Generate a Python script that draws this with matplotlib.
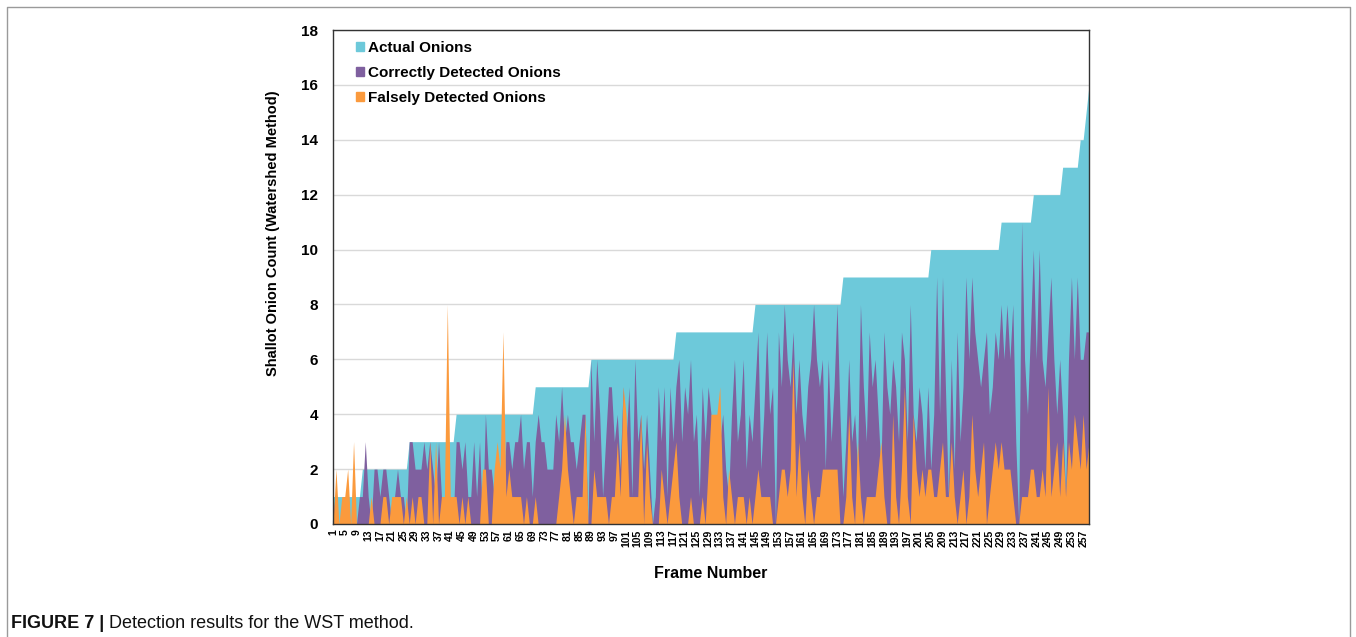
import matplotlib.pyplot as plt
import numpy as np
from matplotlib.lines import Line2D
from matplotlib.patches import Patch

plt.rcParams["font.family"] = ["Liberation Sans", "DejaVu Sans"]

# ---- data (one value per frame, frames 1..259) ----
actual = [
    1, 1, 1, 1, 1, 1, 1, 1, 1, 1,
    2, 2, 2, 2, 2, 2, 2, 2, 2, 2,
    2, 2, 2, 2, 2, 2, 3, 3, 3, 3,
    3, 3, 3, 3, 3, 3, 3, 3, 3, 3,
    3, 3, 4, 4, 4, 4, 4, 4, 4, 4,
    4, 4, 4, 4, 4, 4, 4, 4, 4, 4,
    4, 4, 4, 4, 4, 4, 4, 4, 4, 5,
    5, 5, 5, 5, 5, 5, 5, 5, 5, 5,
    5, 5, 5, 5, 5, 5, 5, 5, 6, 6,
    6, 6, 6, 6, 6, 6, 6, 6, 6, 6,
    6, 6, 6, 6, 6, 6, 6, 6, 6, 6,
    6, 6, 6, 6, 6, 6, 6, 7, 7, 7,
    7, 7, 7, 7, 7, 7, 7, 7, 7, 7,
    7, 7, 7, 7, 7, 7, 7, 7, 7, 7,
    7, 7, 7, 7, 8, 8, 8, 8, 8, 8,
    8, 8, 8, 8, 8, 8, 8, 8, 8, 8,
    8, 8, 8, 8, 8, 8, 8, 8, 8, 8,
    8, 8, 8, 8, 9, 9, 9, 9, 9, 9,
    9, 9, 9, 9, 9, 9, 9, 9, 9, 9,
    9, 9, 9, 9, 9, 9, 9, 9, 9, 9,
    9, 9, 9, 9, 10, 10, 10, 10, 10, 10,
    10, 10, 10, 10, 10, 10, 10, 10, 10, 10,
    10, 10, 10, 10, 10, 10, 10, 10, 11, 11,
    11, 11, 11, 11, 11, 11, 11, 11, 11, 12,
    12, 12, 12, 12, 12, 12, 12, 12, 12, 13,
    13, 13, 13, 13, 13, 14, 14, 15, 16,
]
correct = [
    1, 0, 0, 0, 0, 0, 0, 0, 0, 1,
    1, 3, 1, 0, 2, 2, 1, 2, 2, 1,
    0, 1, 2, 1, 1, 0, 3, 3, 2, 2,
    2, 3, 2, 3, 2, 1, 3, 1, 0, 1,
    1, 0, 3, 3, 2, 3, 1, 1, 3, 1,
    3, 0, 4, 2, 2, 1, 2, 1, 1, 3,
    3, 2, 3, 3, 4, 2, 3, 3, 1, 3,
    4, 3, 3, 2, 2, 2, 4, 3, 5, 3,
    4, 3, 3, 2, 3, 4, 4, 0, 6, 3,
    6, 4, 1, 3, 5, 5, 3, 4, 2, 5,
    3, 5, 1, 6, 3, 4, 2, 4, 2, 0,
    1, 5, 3, 5, 1, 5, 3, 5, 6, 3,
    5, 4, 6, 3, 4, 1, 5, 3, 5, 4,
    2, 4, 3, 4, 2, 1, 4, 6, 3, 4,
    6, 2, 4, 3, 5, 7, 2, 4, 7, 4,
    5, 0, 7, 5, 8, 6, 5, 7, 4, 6,
    4, 3, 5, 6, 8, 6, 5, 6, 2, 6,
    3, 5, 8, 4, 1, 3, 6, 3, 4, 2,
    8, 5, 3, 7, 5, 6, 4, 2, 7, 5,
    4, 6, 5, 3, 7, 6, 3, 8, 4, 3,
    5, 4, 2, 5, 2, 4, 9, 4, 9, 5,
    1, 6, 2, 7, 3, 5, 9, 6, 9, 7,
    6, 5, 6, 7, 4, 5, 7, 6, 8, 6,
    8, 6, 8, 3, 0, 11, 6, 4, 7, 10,
    6, 10, 6, 5, 7, 9, 6, 4, 6, 4,
    1, 6, 9, 6, 9, 6, 6, 7, 7,
]
false_det = [
    0, 2, 0, 1, 1, 2, 0, 3, 0, 0,
    0, 0, 0, 1, 0, 0, 0, 1, 1, 0,
    1, 1, 1, 1, 0, 1, 0, 1, 0, 1,
    1, 0, 0, 3, 0, 3, 0, 1, 1, 8,
    1, 1, 1, 0, 1, 0, 1, 0, 0, 0,
    0, 2, 2, 0, 0, 2, 3, 2, 7, 1,
    2, 1, 1, 1, 1, 0, 1, 0, 0, 1,
    0, 0, 0, 0, 0, 0, 0, 1, 2, 4,
    2, 1, 0, 1, 1, 1, 4, 0, 0, 2,
    1, 1, 1, 1, 0, 1, 1, 3, 1, 5,
    4, 1, 1, 1, 1, 4, 0, 3, 1, 0,
    0, 0, 2, 1, 0, 1, 2, 3, 1, 0,
    0, 0, 1, 0, 0, 0, 1, 0, 2, 4,
    4, 4, 5, 1, 0, 2, 1, 0, 1, 1,
    1, 0, 1, 0, 1, 2, 1, 1, 1, 1,
    0, 0, 1, 2, 2, 1, 2, 6, 1, 3,
    1, 0, 2, 1, 0, 1, 1, 2, 2, 2,
    2, 2, 2, 0, 0, 1, 4, 1, 0, 3,
    1, 0, 1, 1, 1, 1, 2, 3, 1, 0,
    0, 4, 1, 0, 2, 5, 1, 0, 4, 2,
    1, 2, 1, 2, 2, 1, 1, 2, 3, 1,
    1, 3, 1, 0, 1, 2, 0, 1, 4, 2,
    1, 2, 3, 0, 1, 2, 3, 2, 3, 2,
    2, 2, 1, 0, 0, 1, 1, 1, 2, 2,
    1, 1, 2, 1, 5, 1, 2, 3, 1, 3,
    1, 3, 2, 4, 3, 2, 4, 2, 3,
]
frames = np.arange(1, len(actual) + 1)

c_actual = "#6dc9da"
c_correct = "#7f609f"
c_false = "#fb9a3d"

fig = plt.figure(figsize=(13.56, 6.37), dpi=100)
ax = fig.add_axes([0.2456, 0.1774, 0.5575, 0.7755])

ax.fill_between(frames, 0, actual, color=c_actual, lw=0)
ax.fill_between(frames, 0, correct, color=c_correct, lw=0)
ax.fill_between(frames, 0, false_det, color=c_false, lw=0)

ax.set_xlim(1, frames[-1])
ax.set_ylim(0, 18)
ax.set_yticks(range(0, 19, 2))
ax.yaxis.grid(True, color="#d9d9d9", lw=1)
ax.set_axisbelow(True)

xt = frames[::4]
ax.set_xticks(xt)
ax.set_xticklabels([str(v) for v in xt], rotation=90, fontsize=7.5, fontweight="bold")
ax.tick_params(axis="x", direction="in", length=3, pad=4, color="#222222")
ax.tick_params(axis="y", length=0, pad=11, labelsize=11)
for lab in ax.get_yticklabels():
    lab.set_fontweight("bold")
for s in ax.spines.values():
    s.set_color("#333333")
    s.set_linewidth(1)

ax.set_ylabel("Shallot Onion Count (Watershed Method)", fontsize=10.5, fontweight="bold")
ax.yaxis.set_label_coords(-0.070, 0.589)
ax.set_xlabel("Frame Number", fontsize=11.5, fontweight="bold", labelpad=14)

handles = [Patch(color=c_actual), Patch(color=c_correct), Patch(color=c_false)]
labels = ["Actual Onions", "Correctly Detected Onions", "Falsely Detected Onions"]
ax.legend(handles, labels, loc="upper left", bbox_to_anchor=(0.012, 1.006), frameon=False,
          prop={"weight": "bold", "size": 11}, handlelength=0.55, handleheight=0.55,
          handletextpad=0.25, labelspacing=0.72)

# outer frame of the figure panel (open at the bottom)
fig.add_artist(Line2D([7 / 1356, 7 / 1356, 1350 / 1356, 1350 / 1356],
                      [0, 1 - 7 / 637, 1 - 7 / 637, 0], color="#9a9a9a", lw=1))

cap_font = ["Liberation Sans Narrow", "Liberation Sans", "DejaVu Sans"]
t1 = fig.text(11 / 1356, 1 - 624 / 637, "FIGURE 7 |", fontsize=13, fontweight="bold",
              family=cap_font, va="center", color="#111111")
fig.canvas.draw()
bb = t1.get_window_extent()
fig.text((bb.x1 + 5) / 1356, 1 - 624 / 637, "Detection results for the WST method.",
         fontsize=13, family=cap_font, va="center", color="#111111")

fig.savefig("out.png", dpi=100)
